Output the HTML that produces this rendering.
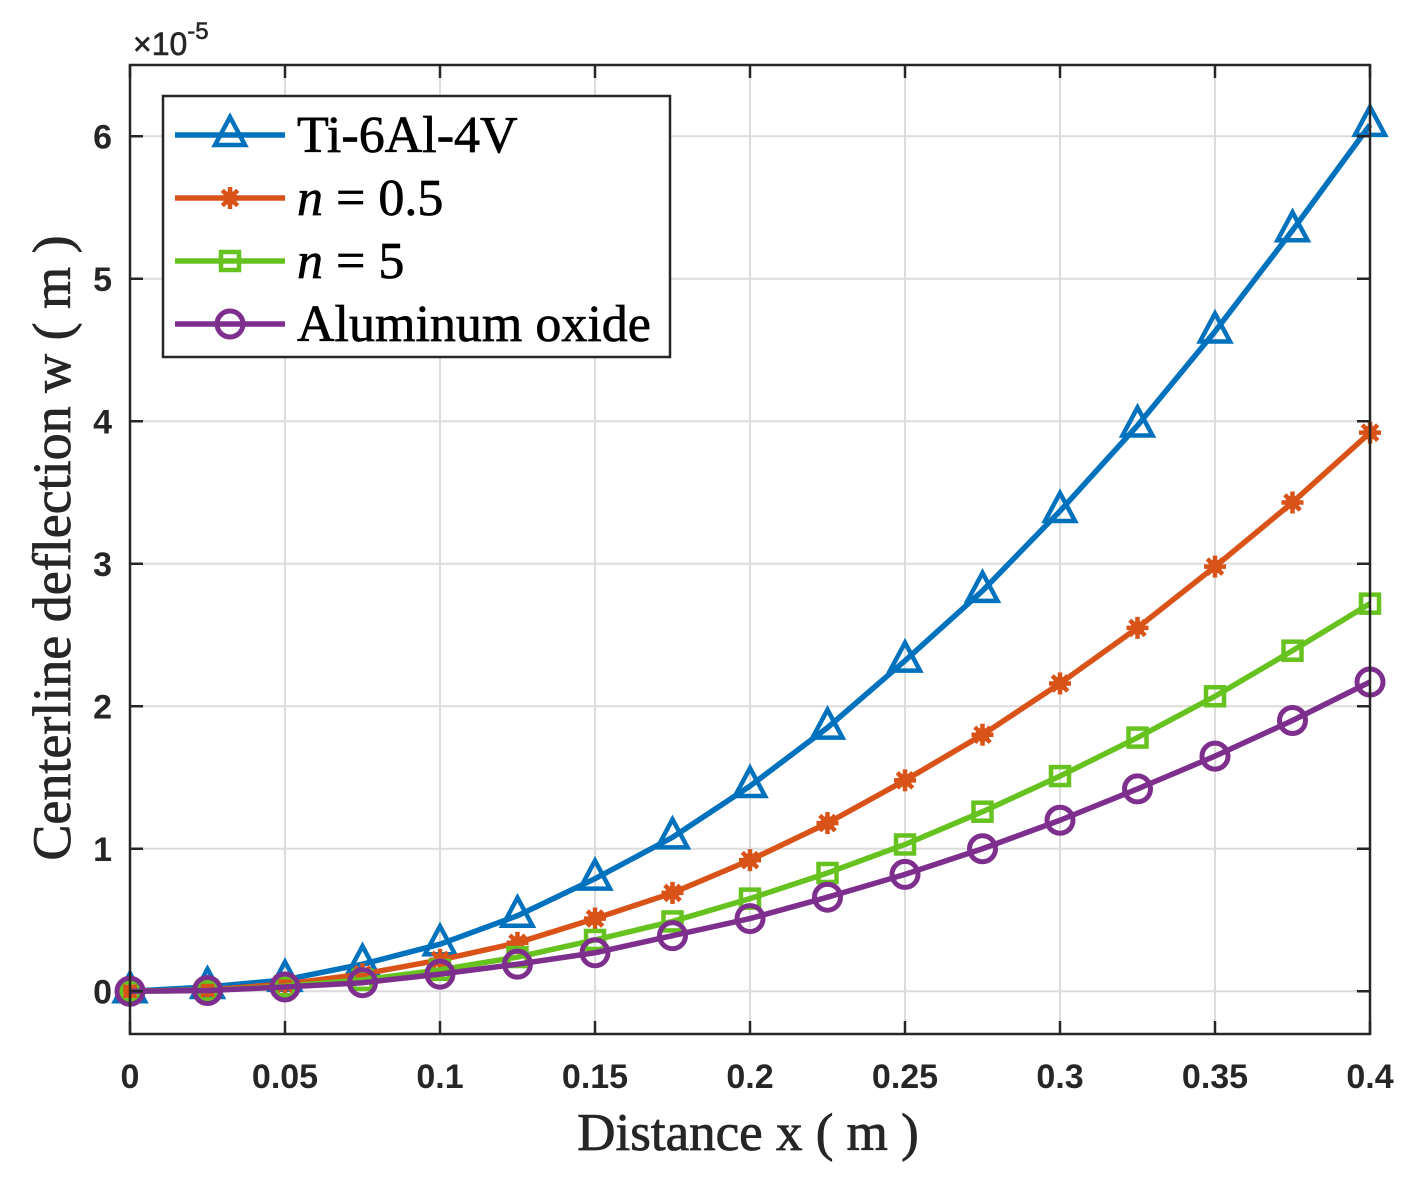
<!DOCTYPE html>
<html><head><meta charset="utf-8"><style>
html,body{margin:0;padding:0;background:#fff;}
svg{display:block;}
</style></head><body>
<svg id="chart" width="1421" height="1186" xmlns="http://www.w3.org/2000/svg">
<g id="grid"></g>
<g id="series"></g>
<rect x="130" y="65" width="1240" height="969" fill="none" stroke="#262626" stroke-width="2.5"/>
<g id="ticks"></g>
<text x="133" y="55" font-family="Liberation Sans, sans-serif" font-size="32" fill="#262626" stroke="#262626" stroke-width="0.6">×10<tspan dy="-16" font-size="24">-5</tspan></text>
<text x="748" y="1150" text-anchor="middle" font-family="Liberation Serif, serif" font-size="53" fill="#262626" stroke="#262626" stroke-width="0.8">Distance x ( m )</text>
<text transform="translate(70,548) rotate(-90)" text-anchor="middle" font-family="Liberation Serif, serif" font-size="54" fill="#262626" stroke="#262626" stroke-width="0.8">Centerline deflection  w ( m )</text>
<g id="legend">
<rect x="163" y="96" width="507" height="261" fill="#fff" stroke="#262626" stroke-width="2.5"/>
</g>
</svg>
<script>
const xValues=[0,0.025,0.05,0.075,0.1,0.125,0.15,0.175,0.2,0.225,0.25,0.275,0.3,0.325,0.35,0.375,0.4];
const tiValues=[0,0.03,0.08,0.19,0.33,0.53,0.79,1.08,1.44,1.85,2.32,2.81,3.37,3.97,4.63,5.34,6.08];
const n05Values=[0,0.01,0.05,0.12,0.22,0.34,0.51,0.69,0.92,1.18,1.48,1.80,2.16,2.55,2.98,3.43,3.92];
const n5Values=[0,0.005,0.035,0.08,0.15,0.24,0.36,0.49,0.65,0.83,1.03,1.26,1.51,1.78,2.07,2.39,2.72];
const alValues=[0,0.005,0.03,0.06,0.12,0.19,0.27,0.39,0.51,0.66,0.82,1.00,1.20,1.42,1.65,1.90,2.17];
const xTicks=[0,0.05,0.1,0.15,0.2,0.25,0.3,0.35,0.4];
const xTickLabels=["0","0.05","0.1","0.15","0.2","0.25","0.3","0.35","0.4"];
const yTicks=[0,1,2,3,4,5,6];
const yTickLabels=["0","1","2","3","4","5","6"];
const seriesNames=["Ti-6Al-4V","n = 0.5","n = 5","Aluminum oxide"];

const NS="http://www.w3.org/2000/svg";
const L=130,R=1370,T=65,B=1034,xMin=0,xMax=0.4,yMin=-0.3,yMax=6.5;
const sx=v=>L+(v-xMin)/(xMax-xMin)*(R-L);
const sy=v=>B-(v-yMin)/(yMax-yMin)*(B-T);
function mk(tag,attrs,parent){const e=document.createElementNS(NS,tag);for(const k in attrs)e.setAttribute(k,attrs[k]);parent.appendChild(e);return e;}
const grid=document.getElementById('grid'),ticks=document.getElementById('ticks'),ser=document.getElementById('series'),leg=document.getElementById('legend');
xTicks.forEach((v,i)=>{
 const x=sx(v);
 const g=mk('line',{x1:x,x2:x,y1:T,y2:B,stroke:'#dcdcdc','stroke-width':2},grid);
 
 const t1=mk('line',{x1:x,x2:x,y1:B,y2:B-13,stroke:'#262626','stroke-width':2.5},ticks);
 
 const t2=mk('line',{x1:x,x2:x,y1:T,y2:T+13,stroke:'#262626','stroke-width':2.5},ticks);
 
 const tx=mk('text',{x:x,y:1088,'text-anchor':'middle','font-family':'Liberation Sans, sans-serif','font-size':34,'font-weight':'bold',fill:'#262626'},ticks);
 tx.textContent=xTickLabels[i];
 
});
yTicks.forEach((v,i)=>{
 const y=sy(v);
 const g=mk('line',{x1:L,x2:R,y1:y,y2:y,stroke:'#dcdcdc','stroke-width':2},grid);
 
 const t1=mk('line',{x1:L,x2:L+13,y1:y,y2:y,stroke:'#262626','stroke-width':2.5},ticks);
 
 const t2=mk('line',{x1:R,x2:R-13,y1:y,y2:y,stroke:'#262626','stroke-width':2.5},ticks);
 
 const tx=mk('text',{x:112,y:y+12,'text-anchor':'end','font-family':'Liberation Sans, sans-serif','font-size':34,'font-weight':'bold',fill:'#262626'},ticks);
 tx.textContent=yTickLabels[i];
 
});
const colors=["#0072BD","#D95319","#66C21E","#7E2F8E"];
const markers=["tri","star","sq","circ"];
function marker(type,x,y,c,parent){
 let e;
 if(type==='tri') e=mk('polygon',{points:`${x},${y-18} ${x-15},${y+10} ${x+15},${y+10}`,fill:'none',stroke:c,'stroke-width':4.5},parent);
 else if(type==='sq') e=mk('rect',{x:x-9,y:y-9,width:18,height:18,fill:'none',stroke:c,'stroke-width':4.5},parent);
 else if(type==='circ') e=mk('circle',{cx:x,cy:y,r:13,fill:'none',stroke:c,'stroke-width':5},parent);
 else { e=mk('g',{},parent);
  [[0,1],[1,0],[0.7,0.7],[0.7,-0.7]].forEach(d=>mk('line',{x1:x-11*d[0],y1:y-11*d[1],x2:x+11*d[0],y2:y+11*d[1],stroke:c,'stroke-width':4.5},e));
  mk('circle',{cx:x,cy:y,r:7,fill:c},e);}
 return e;
}
[tiValues,n05Values,n5Values,alValues].forEach((vals,si)=>{
 const c=colors[si];
 const p=mk('polyline',{points:xValues.map((x,i)=>sx(x)+','+sy(vals[i])).join(' '),fill:'none',stroke:c,'stroke-width':5.5,'stroke-linejoin':'round'},ser);
 
 xValues.forEach((x,i)=>{const m=marker(markers[si],sx(x),sy(vals[i]),c,ser);
  });
 const ly=135+si*63;
 const ll=mk('line',{x1:175,x2:285,y1:ly,y2:ly,stroke:c,'stroke-width':5.5},leg);
 
 const lm=marker(markers[si],230,ly,c,leg);
 
 const t=mk('text',{x:297,y:ly+17,'font-family':'Liberation Serif, serif','font-size':52,fill:'#000',stroke:'#000','stroke-width':0.7},leg);
 const nm=seriesNames[si];
 if(nm.startsWith('n ')){const s=mk('tspan',{'font-style':'italic'},t);s.textContent='n';const r=mk('tspan',{},t);r.textContent=nm.slice(1);}
 else t.textContent=nm;
 
});
</script>
</body></html>
